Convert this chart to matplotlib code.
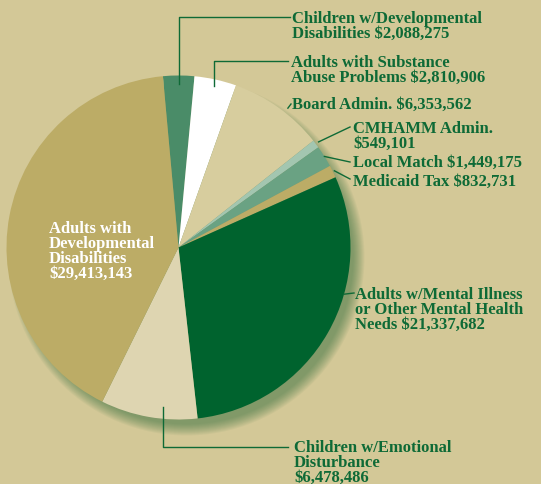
import matplotlib
matplotlib.use('Agg')
import matplotlib.pyplot as plt
from matplotlib.patches import Circle
import numpy as np

# slices, clockwise from the top
categories = ['Children w/Developmental\nDisabilities $2,088,275',
              'Adults with Substance\nAbuse Problems $2,810,906',
              'Board Admin. $6,353,562',
              'CMHAMM Admin.\n$549,101',
              'Local Match $1,449,175',
              'Medicaid Tax $832,731',
              'Adults w/Mental Illness\nor Other Mental Health\nNeeds $21,337,682',
              'Children w/Emotional\nDisturbance\n$6,478,486',
              'Adults with\nDevelopmental\nDisabilities\n$29,413,143']
amounts = [2088275, 2810906, 6353562, 549101, 1449175, 832731,
           21337682, 6478486, 29413143]
colors = ['#4A8C68', '#FFFFFF', '#D7CD9E', '#A3C6B0', '#6AA283', '#BCAC66',
          '#00632E', '#DED5B1', '#BCAC66']

BG = '#D3C897'
TXT = '#0E6A36'
W, H = 541, 485
cx, cy, R = 178.5, H - 248.5, 172

fig = plt.figure(figsize=(W / 100, H / 100), dpi=100, facecolor=BG)
ax = fig.add_axes([0, 0, 1, 1])

# soft green shadow to the lower right
for i in range(12):
    ax.add_patch(Circle((cx + 8, cy - 10), R + 6 - i, color='#2E6B3A',
                        alpha=0.05, lw=0, zorder=1))

wedges, _ = ax.pie(amounts, colors=colors, startangle=95.2, counterclock=False,
                   center=(cx, cy), radius=R, frame=True,
                   wedgeprops=dict(linewidth=0, zorder=2))
ax.set_xlim(0, W)
ax.set_ylim(0, H)
ax.axis('off')

font = dict(family='Liberation Serif', weight='bold', fontsize=12,
            linespacing=0.9)

# (fraction along wedge, radius factor, leader points in px, text x, text top)
leaders = [
    (0.5, 0.95, [('a', 18), (290, 18)], 292, 11),
    (0.5, 0.96, [('a', 62), (288, 62)], 291, 55),
    (0.58, 1.03, [(291, 105)], 292, 97),
    (0.5, 1.02, [(350, 128)], 353, 121),
    (0.5, 1.0, [(350, 163)], 353, 155),
    (0.5, 1.01, [(350, 180)], 353, 174),
    (0.37, 1.0, [(354, 294)], 355, 287),
    (0.36, 0.93, [('a', 448), (288, 448)], 294, 440),
]

for (frac, rf, pts, tx, ty), w, lab in zip(leaders, wedges, categories):
    ang = np.deg2rad(w.theta2 - frac * (w.theta2 - w.theta1))
    ax0 = cx + rf * R * np.cos(ang)
    ay0 = cy + rf * R * np.sin(ang)
    xs, ys = [ax0], [ay0]
    for px, py in pts:
        xs.append(ax0 if px == 'a' else px)
        ys.append(H - py)
    ax.plot(xs, ys, color=TXT, lw=1.0, zorder=3)
    ax.text(tx, H - ty, lab, color=TXT, va='top', ha='left', zorder=4, **font)

ax.text(49, H - 221, categories[-1], color='white', va='top', ha='left',
        zorder=4, **font)

fig.savefig('out.png', dpi=100, facecolor=BG)
